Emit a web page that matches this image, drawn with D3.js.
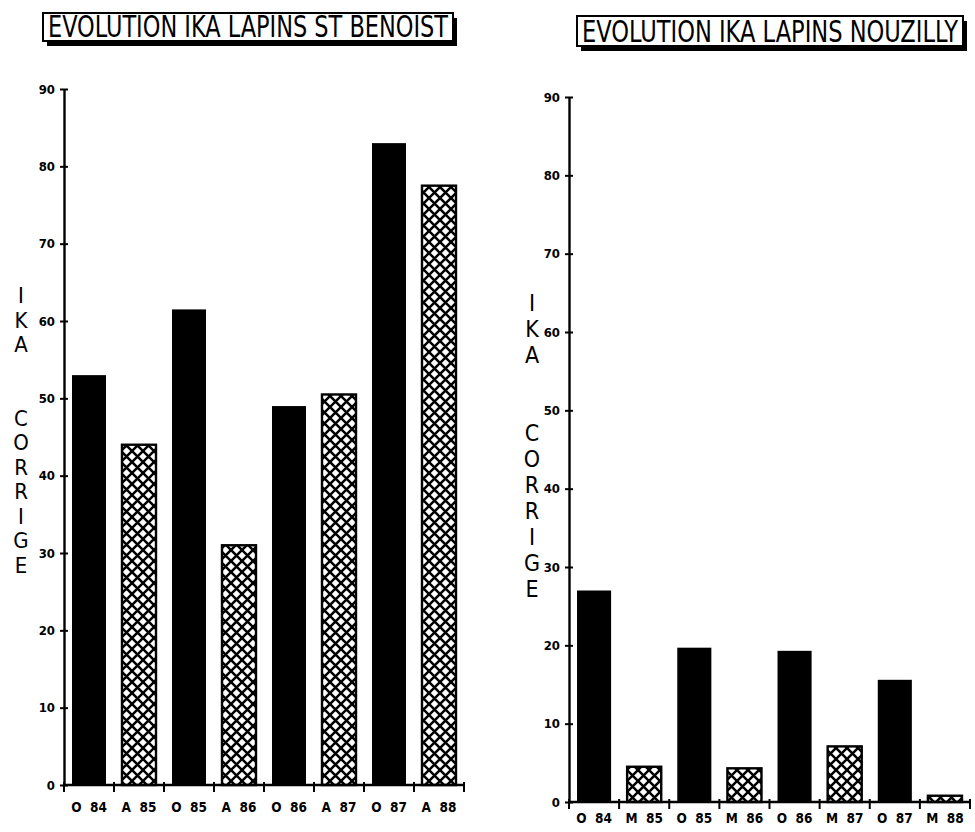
<!DOCTYPE html>
<html>
<head>
<meta charset="utf-8">
<script src="https://cdn.jsdelivr.net/npm/d3@7"></script>
<style>
  html, body { margin: 0; padding: 0; background: #fff; }
  svg { display: block; }
</style>
</head>
<body>
<svg id="chart" width="975" height="832"></svg>
<script>
// ---- Data ----
const leftTitle = "EVOLUTION IKA LAPINS ST BENOIST";
const rightTitle = "EVOLUTION IKA LAPINS NOUZILLY";
const leftCategories = ["O 84", "A 85", "O 85", "A 86", "O 86", "A 87", "O 87", "A 88"];
const leftValues = [53, 44, 61.5, 31, 49, 50.5, 83, 77.5];
const rightCategories = ["O 84", "M 85", "O 85", "M 86", "O 86", "M 87", "O 87", "M 88"];
const rightValues = [27, 4.5, 19.7, 4.3, 19.3, 7.1, 15.6, 0.8];
const yTickValues = [0, 10, 20, 30, 40, 50, 60, 70, 80, 90];
const yTitleLetters = ["I", "K", "A", "", "", "C", "O", "R", "R", "I", "G", "E"];

const FONT = "'Liberation Sans Narrow', 'DejaVu Sans Condensed', 'DejaVu Sans', sans-serif";
const TICKFONT = "'DejaVu Sans Condensed', 'DejaVu Sans', sans-serif";

const svg = d3.select("#chart");

// Cross-hatch pattern
const defs = svg.append("defs");
const pat = defs.append("pattern")
  .attr("id", "hatch")
  .attr("patternUnits", "userSpaceOnUse")
  .attr("width", 11).attr("height", 11);
pat.append("rect").attr("width", 11).attr("height", 11).attr("fill", "#fff");
pat.append("path")
  .attr("d", "M-1,-1 L12,12 M12,-1 L-1,12")
  .attr("stroke", "#000").attr("stroke-width", 2.5).attr("fill", "none");

function drawPanel(cfg) {
  const { categories, values, title } = cfg;
  const g = svg.append("g");

  const x = d3.scaleBand()
    .domain(categories)
    .range([cfg.x0, cfg.x1])
    .paddingInner(0.32)
    .paddingOuter(0.16);

  const y = d3.scaleLinear().domain([0, 90]).range([cfg.yBase, cfg.yTop]);

  // Title box with shadow
  const tb = cfg.titleBox;
  g.append("rect")
    .attr("x", tb.x + 4).attr("y", tb.y + 5)
    .attr("width", tb.w).attr("height", tb.h)
    .attr("fill", "#000");
  g.append("rect")
    .attr("x", tb.x).attr("y", tb.y)
    .attr("width", tb.w).attr("height", tb.h)
    .attr("fill", "#fff").attr("stroke", "#000").attr("stroke-width", 2);
  g.append("text")
    .attr("transform", `translate(${tb.x + 5},${tb.y + tb.h - 4}) scale(1,1.15)`)
    .attr("font-family", FONT)
    .attr("font-size", 26)
    .attr("textLength", tb.w - 10)
    .attr("lengthAdjust", "spacingAndGlyphs")
    .attr("fill", "#000")
    .text(title);

  // Bars
  g.selectAll("rect.bar")
    .data(categories.map((c, i) => ({ c, v: values[i] })))
    .join("rect")
    .attr("class", "bar")
    .attr("x", d => x(d.c))
    .attr("width", x.bandwidth())
    .attr("y", d => y(d.v))
    .attr("height", d => y(0) - y(d.v))
    .attr("fill", d => d.c.startsWith("O") ? "#000" : "url(#hatch)")
    .attr("stroke", "#000")
    .attr("stroke-width", d => d.c.startsWith("O") ? 0 : 2.4);

  // Y axis
  const yAxis = d3.axisLeft(y)
    .tickValues(yTickValues)
    .tickSizeInner(4)
    .tickSizeOuter(0)
    .tickPadding(5)
    .tickFormat(d3.format("d"));
  const ya = g.append("g")
    .attr("transform", `translate(${cfg.x0},0)`)
    .call(yAxis);
  ya.select(".domain").attr("stroke", "#000").attr("stroke-width", 2.4);
  ya.selectAll(".tick line").attr("x1", 4).attr("stroke", "#000").attr("stroke-width", 2);
  ya.selectAll(".tick text")
    .attr("font-family", TICKFONT)
    .attr("font-weight", "bold")
    .attr("font-size", 13)
    .attr("fill", "#000");

  // X axis line and boundary ticks
  g.append("line")
    .attr("x1", cfg.x0).attr("x2", cfg.x1)
    .attr("y1", y(0)).attr("y2", y(0))
    .attr("stroke", "#000").attr("stroke-width", 2.4);
  const bounds = d3.range(categories.length + 1).map(i => cfg.x0 + i * x.step());
  g.selectAll("line.xt")
    .data(bounds)
    .join("line")
    .attr("class", "xt")
    .attr("x1", d => d).attr("x2", d => d)
    .attr("y1", y(0) - 3).attr("y2", y(0) + 7)
    .attr("stroke", "#000").attr("stroke-width", 2);

  // X labels
  g.selectAll("text.xl")
    .data(categories)
    .join("text")
    .attr("class", "xl")
    .attr("x", d => x(d) + x.bandwidth() / 2)
    .attr("y", cfg.xLabelY)
    .attr("text-anchor", "middle")
    .attr("font-family", TICKFONT)
    .attr("font-weight", "bold")
    .attr("font-size", 13.5)
    .attr("fill", "#000")
    .attr("xml:space", "preserve")
    .text(d => d.replace(" ", "  "));

  // Y title letters
  g.selectAll("text.yl")
    .data(yTitleLetters)
    .join("text")
    .attr("class", "yl")
    .attr("x", cfg.yLabelX)
    .attr("y", (d, i) => cfg.yLabelStart + i * cfg.yLabelStep)
    .attr("text-anchor", "middle")
    .attr("font-family", FONT)
    .attr("font-size", cfg.yLabelSize)
    .attr("fill", "#000")
    .text(d => d);
}

drawPanel({
  title: leftTitle,
  categories: leftCategories,
  values: leftValues,
  x0: 64, x1: 464,
  yBase: 785, yTop: 89,
  titleBox: { x: 43, y: 13, w: 410, h: 28 },
  xLabelY: 812,
  yLabelX: 21,
  yLabelStart: 303,
  yLabelStep: 24.5,
  yLabelSize: 22
});

drawPanel({
  title: rightTitle,
  categories: rightCategories,
  values: rightValues,
  x0: 569, x1: 970,
  yBase: 802, yTop: 97,
  titleBox: { x: 577, y: 16, w: 386, h: 30 },
  xLabelY: 823,
  yLabelX: 532,
  yLabelStart: 311,
  yLabelStep: 26,
  yLabelSize: 23
});
</script>
</body>
</html>
